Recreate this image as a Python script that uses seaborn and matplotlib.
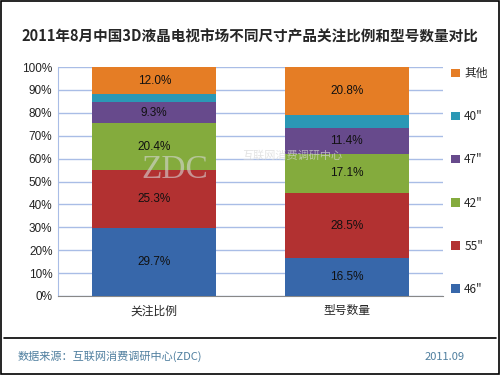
import numpy as np
import pandas as pd
import matplotlib
matplotlib.use("Agg")
import matplotlib.pyplot as plt
from matplotlib.patches import Rectangle, Patch
from matplotlib.lines import Line2D
import seaborn as sns

categories = ["关注比例", "型号数量"]
sizes = ['46"', '55"', '42"', '47"', '40"', "其他"]
share_attention = [29.7, 25.3, 20.4, 9.3, 3.3, 12.0]
share_models = [16.5, 28.5, 17.1, 11.4, 5.7, 20.8]
colors = ["#3767aa", "#b23131", "#84ab3d", "#674a8c", "#2b98b5", "#e57d25"]
labelled = ['46"', '55"', '42"', '47"', "其他"]

sns.set_style("white")
plt.rcParams["font.family"] = ["Noto Sans CJK SC", "DejaVu Sans"]

df = pd.DataFrame({"cat": np.repeat(categories, len(sizes)),
                   "size": sizes * 2,
                   "val": share_attention + share_models})
df["top"] = df.groupby("cat")["val"].cumsum()
df["bottom"] = df["top"] - df["val"]

fig = plt.figure(figsize=(5, 3.75), dpi=100)
ax = fig.add_axes([0.116, 0.2107, 0.77, 0.6106])

# draw cumulative bars from the top segment down so each covers the rest
for s, c in reversed(list(zip(sizes, colors))):
    sub = df[df["size"] == s]
    sns.barplot(data=sub, x="cat", y="top", order=categories, color=c,
                width=0.646, saturation=1, linewidth=0, ax=ax, zorder=3)

for _, r in df.iterrows():
    if r["size"] in labelled:
        ax.text(categories.index(r["cat"]), (r["top"] + r["bottom"]) / 2,
                f"{r['val']:.1f}%", ha="center", va="center", fontsize=8.5,
                color="#111111", family=["Liberation Sans", "DejaVu Sans"], zorder=5)

ax.set_ylim(0, 100)
ax.set_xlim(-0.5, 1.5)
ax.set_yticks(range(0, 101, 10))
ax.set_yticklabels([f"{v}%" for v in range(0, 101, 10)],
                   family=["Liberation Sans", "DejaVu Sans"], fontsize=8.5)
ax.yaxis.grid(True, color="#a9bde6", lw=1)
ax.set_axisbelow(True)
ax.set_xlabel("")
ax.set_ylabel("")
ax.tick_params(axis="x", labelsize=8.5, length=0, pad=6)
ax.tick_params(axis="y", length=0, pad=4, labelcolor="#222222")
for side in ["top", "right"]:
    ax.spines[side].set_visible(False)
ax.spines["left"].set_color("#a9bde6")
ax.spines["bottom"].set_color("#888888")

# watermark
fig.text(0.35, 0.548, "ZDC", fontsize=24, color="#d8d8d8", alpha=0.6,
         family=["Liberation Serif", "DejaVu Serif"], ha="center", va="center", zorder=10)
fig.text(0.585, 0.585, "互联网消费调研中心", fontsize=8, color="#d8d8d8", alpha=0.7,
         ha="center", va="center", zorder=10)

handles = [Patch(facecolor=c, edgecolor="none") for c in colors][::-1]
leg = ax.legend(handles, sizes[::-1], loc="center left", bbox_to_anchor=(1.0, 0.5),
                frameon=False, fontsize=8.5, handlelength=0.7, handleheight=0.7,
                handletextpad=0.4, labelspacing=2.55, borderaxespad=0.3)

fig.suptitle("2011年8月中国3D液晶电视市场不同尺寸产品关注比例和型号数量对比",
             y=0.925, fontsize=10.5, fontweight="bold")

fig.add_artist(Line2D([0.008, 0.992], [0.0987, 0.0987], color="black", lw=1.2,
                      transform=fig.transFigure))
fig.text(0.036, 0.04, "数据来源：互联网消费调研中心(ZDC)", fontsize=8, color="#4f7f9f")
fig.text(0.85, 0.04, "2011.09", fontsize=8, color="#4f7f9f")
fig.add_artist(Rectangle((0.002, 0.003), 0.996, 0.994, fill=False, edgecolor="black",
                         lw=1.2, transform=fig.transFigure))

fig.savefig("out.png", dpi=100)
